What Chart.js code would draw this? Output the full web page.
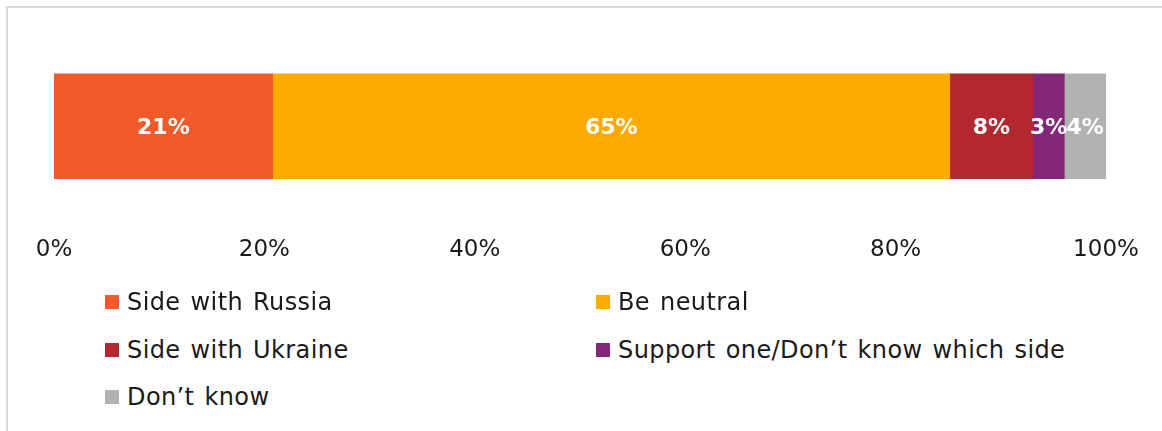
<!DOCTYPE html>
<html>
<head>
<meta charset="utf-8">
<script src="https://cdn.jsdelivr.net/npm/chart.js@4.4.0/dist/chart.umd.min.js"></script>
<style>
  html, body { margin: 0; padding: 0; background: #fff; }
  body { width: 1162px; height: 431px; overflow: hidden; position: relative; font-family: "DejaVu Sans", sans-serif; }
  #frame { position: absolute; left: 6px; top: 6px; width: 1200px; height: 500px; border: 2px solid #d9d9d9; box-sizing: border-box; }
  #wrap { position: absolute; left: 0; top: 0; width: 1162px; height: 321px; }
  #legend { position: absolute; left: 105px; top: 288px; width: 1000px; }
  .item { position: absolute; display: flex; align-items: center; font-size: 24px; letter-spacing: 0.4px; word-spacing: 2px; color: #1a1a1a; white-space: nowrap; }
  .box { width: 14px; height: 14px; margin-right: 8px; }
</style>
</head>
<body>
<div id="frame"></div>
<div id="wrap"><canvas id="myChart"></canvas></div>
<div id="legend"></div>
<script>
// answers (percent of respondents)
const answers = ['Side with Russia', 'Be neutral', 'Side with Ukraine', 'Support one/Don\u2019t know which side', 'Don\u2019t know'];
const values = [21, 65, 8, 3, 4];
const colors = ['#f15a2b', '#ffaa00', '#b3282f', '#832878', '#b2b2b2'];
const xTicks = [0, 20, 40, 60, 80, 100];

// 100% stacked, like the Excel source
const total = values.reduce((a, b) => a + b, 0);

const datasets = answers.map((name, i) => ({
    label: name,
    data: [values[i] / total * 100],
    raw: values[i],
    backgroundColor: colors[i],
    borderWidth: 0,
    barThickness: 105
}));

// white labels in the middle of each segment
const segLabels = {
    id: 'segLabels',
    afterDatasetsDraw(chart) {
        const ctx = chart.ctx;
        ctx.save();
        ctx.fillStyle = '#fff';
        ctx.font = 'bold 22px "DejaVu Sans", sans-serif';
        ctx.textAlign = 'center';
        ctx.textBaseline = 'middle';
        chart.data.datasets.forEach((ds, i) => {
            const bar = chart.getDatasetMeta(i).data[0];
            const cx = (bar.x + bar.base) / 2;
            ctx.fillText(ds.raw + '%', cx, bar.y + 2);
        });
        ctx.restore();
    }
};

const config = {
    type: 'bar',
    data: { labels: [''], datasets: datasets },
    options: {
        indexAxis: 'y',
        responsive: true,
        maintainAspectRatio: false,
        animation: false,
        layout: { padding: { left: 54, right: 56, top: 66, bottom: 14 } },
        plugins: { legend: { display: false }, tooltip: { enabled: false } },
        scales: {
            x: {
                stacked: true,
                min: 0,
                max: 100,
                afterBuildTicks: (axis) => { axis.ticks = xTicks.map(v => ({ value: v })); },
                // keep the plot width fixed, labels may overhang
                afterFit: (axis) => { axis.paddingLeft = 0; axis.paddingRight = 0; },
                grid: { display: false, drawTicks: false },
                border: { display: false },
                ticks: {
                    padding: 50,
                    color: '#1a1a1a',
                    font: { family: '"DejaVu Sans", sans-serif', size: 23 },
                    callback: (v) => v + '%'
                }
            },
            y: {
                stacked: true,
                display: false
            }
        }
    },
    plugins: [segLabels]
};

const myChart = new Chart(document.getElementById('myChart'), config);

// two-column legend, same order as Excel
const legendPos = [[0, 0], [491, 0], [0, 48], [491, 48], [0, 95]];
const legend = document.getElementById('legend');
answers.forEach((name, i) => {
    const el = document.createElement('div');
    el.className = 'item';
    el.style.left = legendPos[i][0] + 'px';
    el.style.top = legendPos[i][1] + 'px';
    el.innerHTML = '<span class="box" style="background:' + colors[i] + '"></span><span>' + name + '</span>';
    legend.appendChild(el);
});
</script>
</body>
</html>
